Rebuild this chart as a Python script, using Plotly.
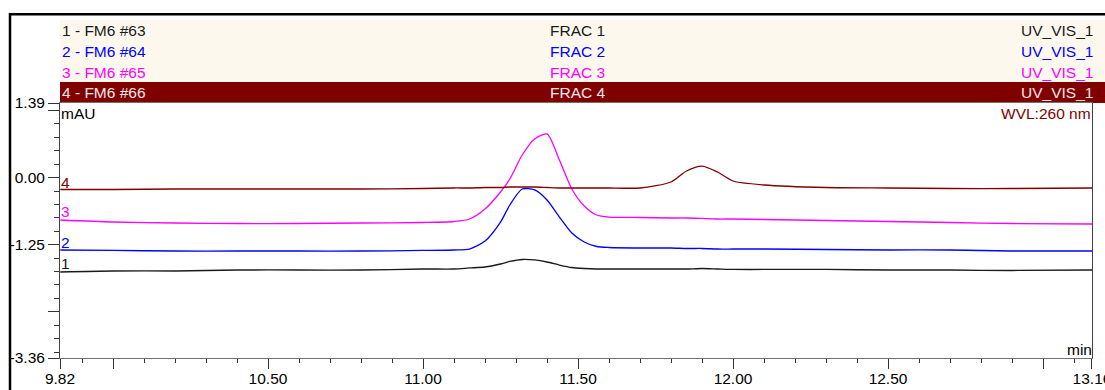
import plotly.graph_objects as go

# ---------------- data ----------------
time_min = [9.83, 10.0, 10.2, 10.4, 10.6, 10.8, 11.0, 11.1, 11.15, 11.2, 11.25, 11.28,
            11.32, 11.36, 11.40, 11.44, 11.48, 11.52, 11.56, 11.6, 11.7, 11.8, 11.85,
            11.9, 11.95, 12.0, 12.1, 12.3, 12.5, 12.7, 12.9, 13.16]

frac1 = [-1.758, -1.739, -1.739, -1.721, -1.721, -1.721, -1.702, -1.702, -1.683, -1.665,
         -1.609, -1.562, -1.525, -1.534, -1.572, -1.628, -1.674, -1.693, -1.702, -1.702,
         -1.702, -1.702, -1.702, -1.693, -1.702, -1.711, -1.711, -1.711, -1.721, -1.721,
         -1.730, -1.721]
frac2 = [-1.348, -1.357, -1.367, -1.367, -1.367, -1.367, -1.357, -1.348, -1.330, -1.181,
         -0.827, -0.510, -0.212, -0.230, -0.417, -0.734, -1.032, -1.200, -1.283, -1.302,
         -1.311, -1.311, -1.320, -1.320, -1.330, -1.330, -1.330, -1.339, -1.348, -1.348,
         -1.367, -1.367]
frac3 = [-0.789, -0.827, -0.845, -0.855, -0.855, -0.845, -0.836, -0.817, -0.771, -0.584,
         -0.268, -0.026, 0.421, 0.719, 0.813, 0.328, -0.212, -0.529, -0.696, -0.734,
         -0.743, -0.752, -0.752, -0.761, -0.771, -0.771, -0.780, -0.799, -0.817, -0.836,
         -0.855, -0.864]
frac4 = [-0.221, -0.221, -0.212, -0.212, -0.212, -0.212, -0.203, -0.193, -0.193, -0.184,
         -0.184, -0.175, -0.175, -0.175, -0.184, -0.193, -0.193, -0.193, -0.193, -0.193,
         -0.193, -0.082, 0.123, 0.216, 0.105, -0.063, -0.137, -0.184, -0.193, -0.203,
         -0.203, -0.193]

trace_nums = ["1", "2", "3", "4"]
sample_names = ["1 - FM6 #63", "2 - FM6 #64", "3 - FM6 #65", "4 - FM6 #66"]
frac_names = ["FRAC 1", "FRAC 2", "FRAC 3", "FRAC 4"]
channel_names = ["UV_VIS_1", "UV_VIS_1", "UV_VIS_1", "UV_VIS_1"]
series = [frac1, frac2, frac3, frac4]
colors = ["#1a1a1a", "#0000ff", "#ff00ff", "#800000"]
header_text_colors = ["#1a1a1a", "#0000ff", "#ff00ff", "#f4e6e6"]

x_range = [9.829, 13.158]
y_range = [-3.36, 1.39]
x_tickvals = [9.829, 10.0, 10.5, 11.0, 11.5, 12.0, 12.5, 13.0, 13.1579]
x_ticktext = ["9.82", "", "10.50", "11.00", "11.50", "12.00", "12.50", "", "13.16"]
y_tickvals = [1.39, 1.25, 0.0, -1.25, -2.5, -3.36]
y_ticktext = ["1.39", "", "0.00", "-1.25", "", "-3.36"]

# ---------------- layout helpers (pixel -> paper) ----------------
W, H = 1105, 390
FONT = "Liberation Sans, Arial, sans-serif"
FS = 15.5


def px(x):
    return x / W


def py(y):
    return 1 - y / H


fig = go.Figure()
for name, ys, c in zip(frac_names, series, colors):
    fig.add_trace(go.Scatter(x=time_min, y=ys, mode="lines", name=name,
                             line=dict(color=c, width=1.3, shape="spline", smoothing=0.7),
                             showlegend=False, hoverinfo="skip"))

shapes = [
    # header band
    dict(type="rect", xref="paper", yref="paper", x0=px(60), x1=px(1105), y0=py(82), y1=py(20),
         fillcolor="#fdf8ee", line=dict(width=0), layer="below"),
    dict(type="rect", xref="paper", yref="paper", x0=px(60), x1=px(1105), y0=py(103), y1=py(82),
         fillcolor="#800000", line=dict(width=0), layer="below"),
    # outer frame
    dict(type="line", xref="paper", yref="paper", x0=px(9), x1=px(1105), y0=py(14.3), y1=py(14.3),
         line=dict(color="black", width=2.5)),
    dict(type="line", xref="paper", yref="paper", x0=px(10), x1=px(10), y0=py(13), y1=py(390),
         line=dict(color="black", width=2.5)),
]

annotations = []
row_centers = [31, 51.5, 72, 92.5]
for i in range(4):
    yc = py(row_centers[i])
    col = header_text_colors[i]
    annotations.append(dict(text=sample_names[i], x=px(60), y=yc, xref="paper", yref="paper",
                            xanchor="left", yanchor="middle", showarrow=False,
                            font=dict(family=FONT, size=FS, color=col)))
    annotations.append(dict(text=frac_names[i], x=px(548), y=yc, xref="paper", yref="paper",
                            xanchor="left", yanchor="middle", showarrow=False,
                            font=dict(family=FONT, size=FS, color=col)))
    annotations.append(dict(text=channel_names[i], x=px(1095), y=yc, xref="paper", yref="paper",
                            xanchor="right", yanchor="middle", showarrow=False,
                            font=dict(family=FONT, size=FS, color=col)))

annotations += [
    dict(text="mAU", x=px(59), y=py(113), xref="paper", yref="paper", xanchor="left",
         yanchor="middle", showarrow=False, font=dict(family=FONT, size=FS, color="black")),
    dict(text="WVL:260 nm", x=px(1093), y=py(113), xref="paper", yref="paper", xanchor="right",
         yanchor="middle", showarrow=False, font=dict(family=FONT, size=FS, color="#800000")),
    dict(text="min", x=px(1094), y=py(349), xref="paper", yref="paper", xanchor="right",
         yanchor="middle", showarrow=False, font=dict(family=FONT, size=FS, color="black")),
]
label_y = [263, 242, 212, 182]
for i in range(4):
    annotations.append(dict(text=trace_nums[i], x=px(59), y=py(label_y[i]), xref="paper",
                            yref="paper", xanchor="left", yanchor="middle", showarrow=False,
                            font=dict(family=FONT, size=FS, color=colors[i])))

fig.update_layout(
    width=W, height=H,
    margin=dict(l=0, r=0, t=0, b=0, autoexpand=False),
    paper_bgcolor="white", plot_bgcolor="white",
    font=dict(family=FONT, size=FS, color="black"),
    shapes=shapes, annotations=annotations,
    xaxis=dict(domain=[px(60), px(1092)], range=x_range, tickmode="array", automargin=False,
               tickvals=x_tickvals, ticktext=x_ticktext, ticks="outside", ticklen=10,
               tickcolor="#333", tickwidth=1, showgrid=False, zeroline=False,
               showline=True, linecolor="#707070", linewidth=1, mirror=True,
               ticklabeloverflow="allow", ticklabelstandoff=-4,
               tickfont=dict(family=FONT, size=FS, color="black"),
               minor=dict(tickmode="linear", tick0=0, dtick=0.1, ticklen=4,
                          ticks="outside", tickcolor="#333", showgrid=False)),
    yaxis=dict(domain=[py(358), py(103)], range=y_range, tickmode="array", automargin=False,
               tickvals=y_tickvals, ticktext=y_ticktext, ticks="outside", ticklen=11,
               tickcolor="#333", tickwidth=1, showgrid=False, zeroline=False,
               showline=True, linecolor="#404040", linewidth=1, mirror=True,
               ticklabeloverflow="allow",
               tickfont=dict(family=FONT, size=FS, color="black"),
               minor=dict(tickmode="linear", tick0=0, dtick=0.25, ticklen=5,
                          ticks="outside", tickcolor="#333", showgrid=False)),
)

fig.write_html("out.html")
